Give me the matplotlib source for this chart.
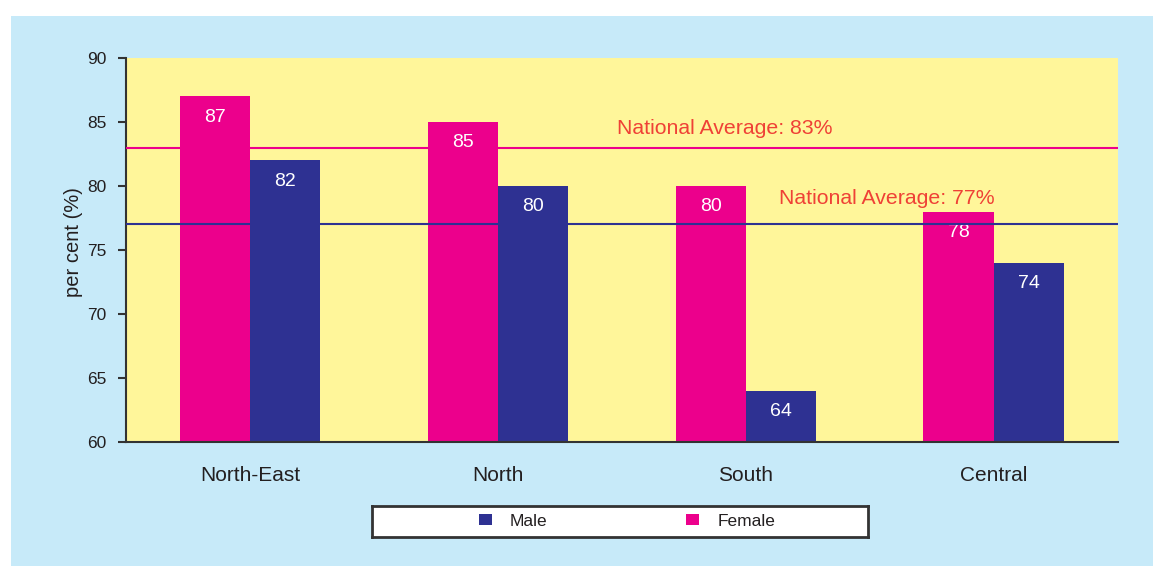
import matplotlib.pyplot as plt
from matplotlib.patches import Patch, Rectangle
import numpy as np

plt.rcParams['font.family'] = ['Liberation Sans', 'DejaVu Sans']

regions = ['North-East', 'North', 'South', 'Central']
female = [87, 85, 80, 78]
male = [82, 80, 64, 74]
avg_female = 83
avg_male = 77

pink = '#EC008C'
navy = '#2E3192'
txt = '#231F20'

fig = plt.figure(figsize=(11.53, 5.66), dpi=100)
# light blue panel behind everything
fig.patches.append(Rectangle((11 / 1153, 0), 1, 550 / 566, transform=fig.transFigure,
                             facecolor='#C7EAF9', edgecolor='none', zorder=-10))

ax = fig.add_axes([126 / 1153, 124 / 566, 991.5 / 1153, 384 / 566])
ax.set_facecolor('#FFF69A')

x = np.arange(len(regions))
w = 0.283
bf = ax.bar(x - w / 2, female, w, color=pink, zorder=2)
bm = ax.bar(x + w / 2, male, w, color=navy, zorder=2)

for rects, vals in ((bf, female), (bm, male)):
    for r, v in zip(rects, vals):
        ax.annotate(str(v), (r.get_x() + r.get_width() / 2, v), xytext=(0, -15),
                    textcoords='offset points', ha='center', va='center',
                    color='white', fontsize=14)

ax.axhline(avg_female, color=pink, lw=1.5, zorder=3)
ax.axhline(avg_male, color=navy, lw=1.5, zorder=3)
ax.text(1.48, 84.5, 'National Average: %d%%' % avg_female, color='#EF4136',
        fontsize=15.3, ha='left', va='center')
ax.text(2.134, 79.05, 'National Average: %d%%' % avg_male, color='#EF4136',
        fontsize=15.3, ha='left', va='center')

ax.set_xlim(-0.5, 3.5)
ax.set_ylim(60, 90)
ax.set_yticks(range(60, 91, 5))
ax.set_xticks(x)
ax.set_xticklabels(regions, fontsize=15, color=txt)
ax.tick_params(axis='x', length=0, pad=17)
ax.tick_params(axis='y', length=6, width=1.5, color='#333333', labelsize=12.5,
               labelcolor=txt, pad=8)
ax.set_ylabel('per cent (%)', fontsize=14.5, color=txt)
ax.yaxis.set_label_coords(-0.043, 0.52)

for s in ('top', 'right'):
    ax.spines[s].set_visible(False)
for s in ('left', 'bottom'):
    ax.spines[s].set_color('#333333')
    ax.spines[s].set_linewidth(1.5)

# legend box
lax = fig.add_axes([372 / 1153, 29 / 566, 496 / 1153, 31 / 566])
lax.set_xticks([])
lax.set_yticks([])
lax.set_facecolor('white')
for s in lax.spines.values():
    s.set_color('#333333')
    s.set_linewidth(2)
handles = [Patch(facecolor=navy, edgecolor='none', label='Male'),
           Patch(facecolor=pink, edgecolor='none', label='Female')]
lax.legend(handles=handles, loc='center', bbox_to_anchor=(0.514, 0.5), ncol=2,
           frameon=False, fontsize=12.5,
           handlelength=0.75, handleheight=0.6, handletextpad=1.03,
           columnspacing=8.0, borderaxespad=0, labelcolor=txt)

fig.savefig('out.png', dpi=100)
